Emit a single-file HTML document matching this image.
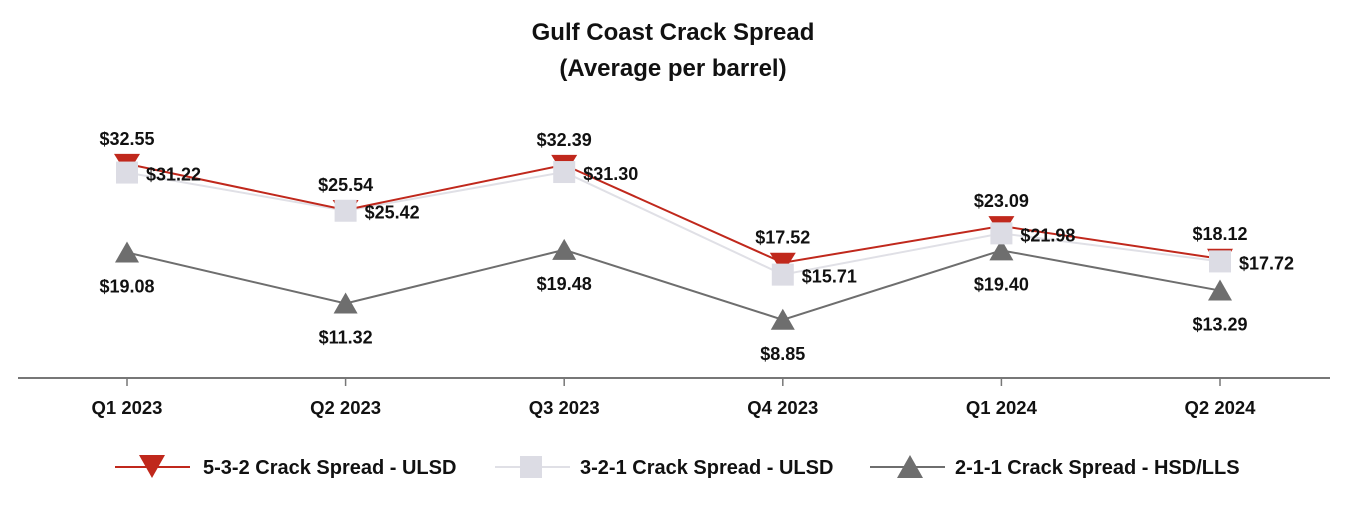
<!DOCTYPE html>
<html><head><meta charset="utf-8"><style>
body{margin:0;background:#fff;}
svg{display:block;font-family:"Liberation Sans",Arial,sans-serif;font-weight:bold;}
</style></head><body>
<svg width="1350" height="510" viewBox="0 0 1350 510">
<text x="673" y="40" text-anchor="middle" font-size="24" fill="#111">Gulf Coast Crack Spread</text>
<text x="673" y="76" text-anchor="middle" font-size="24" fill="#111">(Average per barrel)</text>
<line x1="18" y1="378" x2="1330" y2="378" stroke="#777" stroke-width="2"/>
<g id="plot"></g>
<g>
<g>
<line x1="115" y1="467" x2="190" y2="467" stroke="#c0281c" stroke-width="2"/>
<polygon points="139,455 165,455 152,478" fill="#c0281c"/>
<text x="203" y="474" font-size="20" fill="#111">5-3-2 Crack Spread - ULSD</text></g>
<g>
<line x1="495" y1="467" x2="570" y2="467" stroke="#e0e0e6" stroke-width="2"/>
<rect x="520" y="456" width="22" height="22" fill="#dcdce4"/>
<text x="580" y="474" font-size="20" fill="#111">3-2-1 Crack Spread - ULSD</text></g>
<g>
<line x1="870" y1="467" x2="945" y2="467" stroke="#6e6e6e" stroke-width="2"/>
<polygon points="910,455 923,478 897,478" fill="#6e6e6e"/>
<text x="955" y="474" font-size="20" fill="#111">2-1-1 Crack Spread - HSD/LLS</text></g>
</g>
</svg>
<script>
const categories=["Q1 2023","Q2 2023","Q3 2023","Q4 2023","Q1 2024","Q2 2024"];
const s532=[32.55,25.54,32.39,17.52,23.09,18.12];
const s321=[31.22,25.42,31.30,15.71,21.98,17.72];
const s211=[19.08,11.32,19.48,8.85,19.40,13.29];
const NS="http://www.w3.org/2000/svg";
const g=document.getElementById('plot');
function xs(i){return 127+i*218.6;}
function ys(v){return 378-v*6.58;}
function mk(tag,attrs,parent){const e=document.createElementNS(NS,tag);for(const k in attrs)e.setAttribute(k,attrs[k]);(parent||g).appendChild(e);return e;}
categories.forEach((c,i)=>{
 const t=mk('text',{x:xs(i),y:414,'text-anchor':'middle','font-size':18.5,fill:'#111'});
 
 
 t.textContent=c;
 const tk=mk('line',{x1:xs(i),x2:xs(i),y1:378,y2:386,stroke:'#777','stroke-width':1.5});
 
 
});
function line(arr,color,name){
 const p=mk('polyline',{points:arr.map((v,i)=>xs(i)+','+ys(v)).join(' '),fill:'none',stroke:color,'stroke-width':2});
 
 
}
line(s211,'#6e6e6e','line-211');
line(s321,'#e0e0e6','line-321');
line(s532,'#c0281c','line-532');
s211.forEach((v,i)=>{const x=xs(i),y=ys(v);
 const m=mk('polygon',{points:`${x},${y-11} ${x+12},${y+10} ${x-12},${y+10}`,fill:'#6e6e6e'});
 
 
 const t=mk('text',{x:x,y:y+40,'text-anchor':'middle','font-size':18,fill:'#111'});
 
 
 t.textContent='$'+v.toFixed(2);});
s532.forEach((v,i)=>{const x=xs(i),y=ys(v);
 const m=mk('polygon',{points:`${x-13},${y-10} ${x+13},${y-10} ${x},${y+11}`,fill:'#c0281c'});
 
 
 const t=mk('text',{x:x,y:y-19,'text-anchor':'middle','font-size':18,fill:'#111'});
 
 
 t.textContent='$'+v.toFixed(2);});
s321.forEach((v,i)=>{const x=xs(i),y=ys(v);
 const m=mk('rect',{x:x-11,y:y-11,width:22,height:22,fill:'#dcdce4'});
 
 
 const t=mk('text',{x:x+19,y:y+8,'font-size':18,fill:'#111'});
 
 
 t.textContent='$'+v.toFixed(2);});
</script>
</body></html>
